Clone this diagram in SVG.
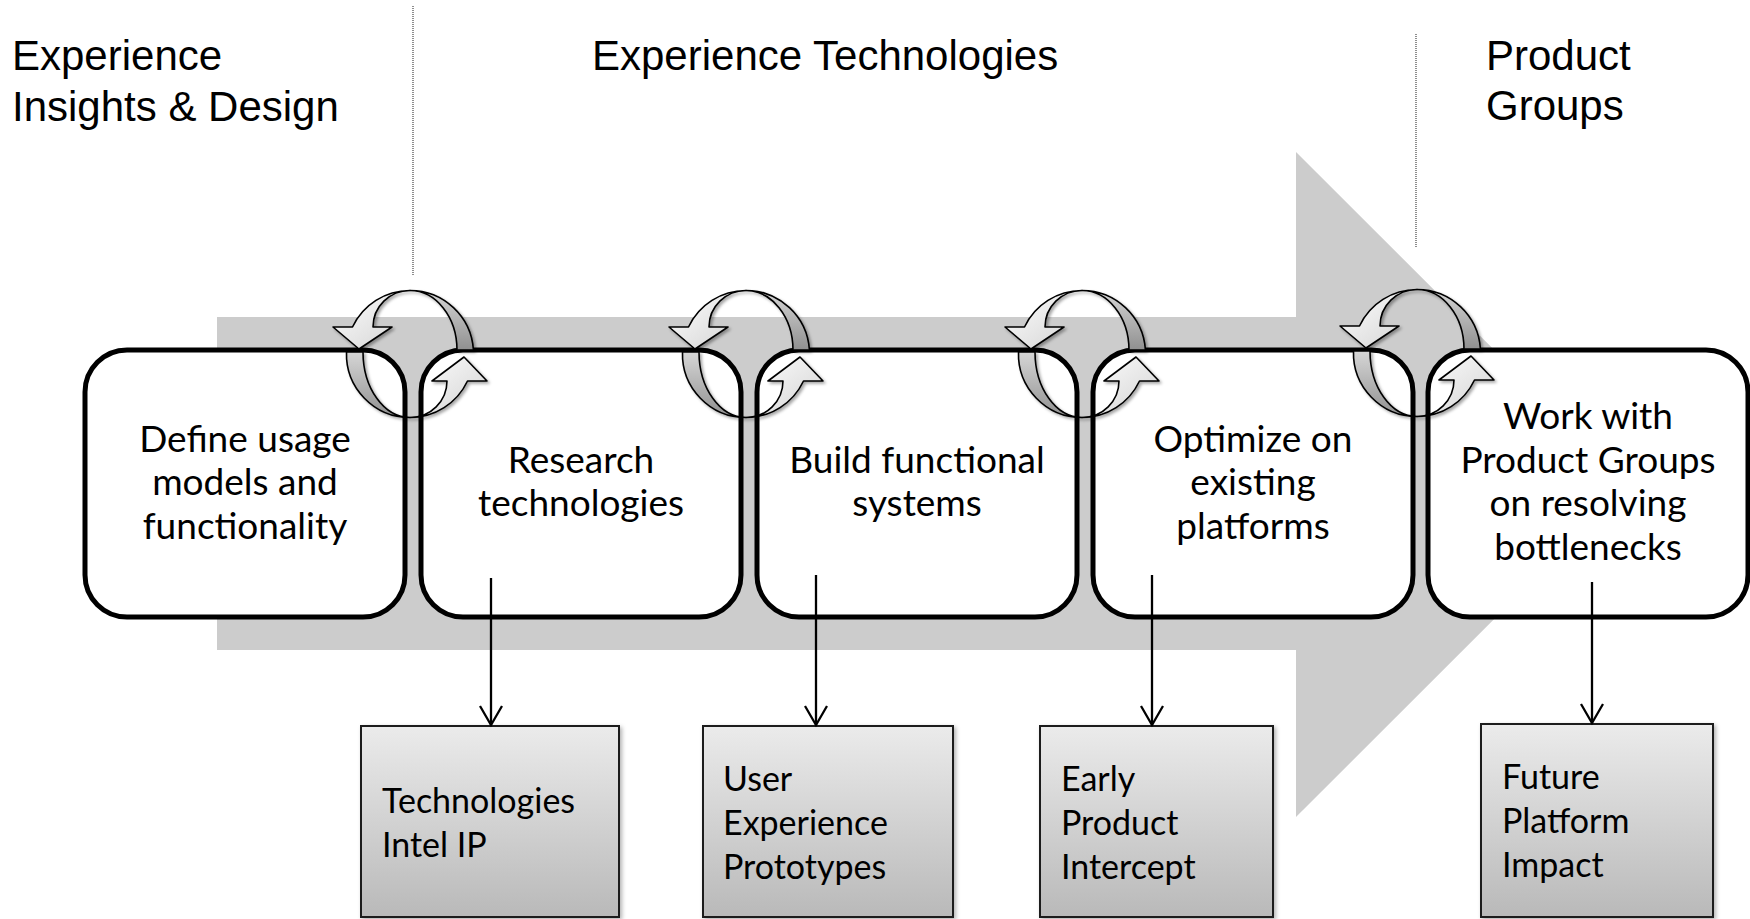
<svg xmlns="http://www.w3.org/2000/svg" xmlns:xlink="http://www.w3.org/1999/xlink" width="1750" height="919" viewBox="0 0 1750 919">
  <style>
    .hdr { font-family: "Liberation Sans", Arial, sans-serif; font-size: 42px; fill: #000; }
    .step { font-family: Lato, "Open Sans", sans-serif; font-size: 37px; fill: #000; text-anchor: middle; }
    .out { font-family: Lato, "Open Sans", sans-serif; font-size: 34px; fill: #000; }
    .stepbox { fill: #fff; stroke: #000; stroke-width: 5; }
    .outbox { fill: url(#outFill); stroke: #1a1a1a; stroke-width: 2; filter: url(#soft); }
    .divider { stroke: #444; stroke-width: 1.2; stroke-dasharray: 1 1; fill: none; }
    .conn { stroke: #000; stroke-width: 2.3; fill: none; marker-end: url(#vee); }
    .band { fill: url(#bandFill); stroke: #000; stroke-width: 1.6; stroke-linejoin: round; }
    .shaft { fill: url(#shaftFill); stroke: #000; stroke-width: 1.6; stroke-linejoin: round; }
  </style>
  <defs>
    <linearGradient id="outFill" x1="0" y1="0" x2="0" y2="1">
      <stop offset="0" stop-color="#ebebeb"/>
      <stop offset="1" stop-color="#b9b9b9"/>
    </linearGradient>
    <linearGradient id="bandFill" x1="0" y1="0" x2="0" y2="1">
      <stop offset="0" stop-color="#d6d6d6"/>
      <stop offset="1" stop-color="#909090"/>
    </linearGradient>
    <linearGradient id="shaftFill" x1="0" y1="0" x2="1" y2="1">
      <stop offset="0" stop-color="#ffffff"/>
      <stop offset="1" stop-color="#d2d2d2"/>
    </linearGradient>
    <filter id="soft" x="-10%" y="-10%" width="130%" height="130%">
      <feDropShadow dx="2" dy="2" stdDeviation="2" flood-color="#000" flood-opacity="0.3"/>
    </filter>
    <filter id="iconShadow" x="-20%" y="-20%" width="150%" height="150%">
      <feDropShadow dx="2" dy="2" stdDeviation="1.8" flood-color="#000" flood-opacity="0.35"/>
    </filter>
    <marker id="vee" viewBox="0 0 24 26" refX="21" refY="13" markerWidth="24" markerHeight="26" markerUnits="userSpaceOnUse" orient="auto">
      <path d="M2,2 L21,13 L2,24" fill="none" stroke="#000" stroke-width="2.3"/>
    </marker>
    <!-- looping two-arrow ribbon, centred on 0,0 -->
    <g id="cycle" filter="url(#iconShadow)">
      <path class="band" d="M0,-63.5 A63.5,63.5 0 0 1 63.4,-4 L47,-4 A47,59.5 0 0 0 0,-63.5 Z"/>
      <path class="band" d="M-63.5,-2 A63.5,63.5 0 0 0 0,63.5 A47,65.5 0 0 1 -47,-2 Z"/>
      <path class="shaft" d="M0,-63.5 A63.5,63.5 0 0 0 -57.5,-27 L-77,-27 L-51,-5 L-18,-27 L-37,-27 A37,36.5 0 0 1 0,-63.5 Z"/>
      <path class="shaft" d="M0,63.5 A63.5,63.5 0 0 0 57.5,27 L77,27 L54,3 L22,27 L37,27 A37,36.5 0 0 1 0,63.5 Z"/>
    </g>
  </defs>

  <rect width="1750" height="919" fill="#fff"/>

  <!-- flow arrow behind the process steps -->
  <polygon id="flow" points="217,317 1296,317 1296,152 1629,484.5 1296,817 1296,650 217,650" fill="#cccccc"/>

  <!-- section dividers -->
  <line class="divider" x1="413" y1="6" x2="413" y2="275"/>
  <line class="divider" x1="1416" y1="34" x2="1416" y2="247"/>

  <!-- section headings -->
  <g id="heading-insights">
    <text class="hdr" x="12" y="70">Experience</text>
    <text class="hdr" x="12" y="121">Insights &amp; Design</text>
  </g>
  <g id="heading-technologies">
    <text class="hdr" x="592" y="70">Experience Technologies</text>
  </g>
  <g id="heading-product">
    <text class="hdr" x="1486" y="70">Product</text>
    <text class="hdr" x="1486" y="120">Groups</text>
  </g>

  <!-- process steps -->
  <g id="step-define">
    <rect class="stepbox" x="85" y="350" width="320" height="267" rx="42"/>
    <text class="step" x="245" y="452">Define usage</text>
    <text class="step" x="245" y="495">models and</text>
    <text class="step" x="245" y="539">functionality</text>
  </g>
  <g id="step-research">
    <rect class="stepbox" x="421" y="350" width="320" height="267" rx="42"/>
    <text class="step" x="581" y="473">Research</text>
    <text class="step" x="581" y="516">technologies</text>
  </g>
  <g id="step-build">
    <rect class="stepbox" x="757" y="350" width="320" height="267" rx="42"/>
    <text class="step" x="917" y="473">Build functional</text>
    <text class="step" x="917" y="516">systems</text>
  </g>
  <g id="step-optimize">
    <rect class="stepbox" x="1093" y="350" width="320" height="267" rx="42"/>
    <text class="step" x="1253" y="452">Optimize on</text>
    <text class="step" x="1253" y="495">existing</text>
    <text class="step" x="1253" y="539">platforms</text>
  </g>
  <g id="step-product">
    <rect class="stepbox" x="1428" y="350" width="320" height="267" rx="42"/>
    <text class="step" x="1588" y="429">Work with</text>
    <text class="step" x="1588" y="473">Product Groups</text>
    <text class="step" x="1588" y="516">on resolving</text>
    <text class="step" x="1588" y="560">bottlenecks</text>
  </g>

  <!-- iteration loops between steps -->
  <g id="loops">
    <use xlink:href="#cycle" href="#cycle" x="410" y="354"/>
    <use xlink:href="#cycle" href="#cycle" x="746" y="354"/>
    <use xlink:href="#cycle" href="#cycle" x="1082" y="354"/>
    <use xlink:href="#cycle" href="#cycle" x="1417" y="353"/>
  </g>

  <!-- outcomes -->
  <g id="out-ip">
    <rect class="outbox" x="361" y="726" width="258" height="191"/>
    <text class="out" x="382" y="813">Technologies</text>
    <text class="out" x="382" y="857">Intel IP</text>
  </g>
  <g id="out-ux">
    <rect class="outbox" x="703" y="726" width="250" height="191"/>
    <text class="out" x="723" y="791">User</text>
    <text class="out" x="723" y="835">Experience</text>
    <text class="out" x="723" y="879">Prototypes</text>
  </g>
  <g id="out-intercept">
    <rect class="outbox" x="1040" y="726" width="233" height="191"/>
    <text class="out" x="1061" y="791">Early</text>
    <text class="out" x="1061" y="835">Product</text>
    <text class="out" x="1061" y="879">Intercept</text>
  </g>
  <g id="out-impact">
    <rect class="outbox" x="1481" y="724" width="232" height="193"/>
    <text class="out" x="1502" y="789">Future</text>
    <text class="out" x="1502" y="833">Platform</text>
    <text class="out" x="1502" y="877">Impact</text>
  </g>

  <!-- connectors -->
  <g id="connectors">
    <line class="conn" x1="491" y1="578" x2="491" y2="725"/>
    <line class="conn" x1="816" y1="575" x2="816" y2="725"/>
    <line class="conn" x1="1152" y1="575" x2="1152" y2="725"/>
    <line class="conn" x1="1592" y1="582" x2="1592" y2="723"/>
  </g>
</svg>
